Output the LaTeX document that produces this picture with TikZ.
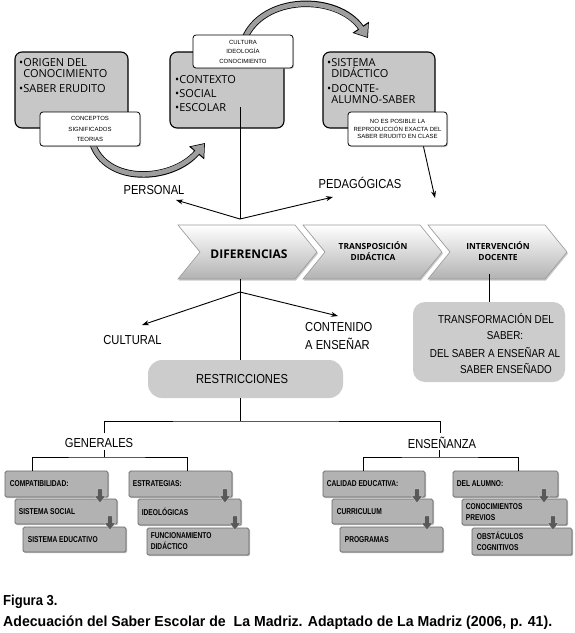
\documentclass[tikz,border=0pt]{standalone}
\usepackage{fontspec}
\usepackage{graphicx}
\setmainfont{Liberation Sans}
\newfontfamily\labf[FakeStretch=0.86]{Liberation Sans}
\newfontfamily\capf[FakeStretch=0.9]{Liberation Sans}
\newfontfamily\boxf{Open Sans}
\newfontfamily\smallf{Liberation Sans}
\newfontfamily\lowf[FakeStretch=0.78]{Liberation Sans}
\usetikzlibrary{arrows.meta,calc,shadows}
\newcommand\darrow[2]{\filldraw[darr] (#1-2.6,#2) -- (#1+2.6,#2) -- (#1+2.6,#2+7) -- (#1+5.5,#2+7) -- (#1,#2+14) -- (#1-5.5,#2+7) -- (#1-2.6,#2+7) -- cycle;}
\begin{document}
\begin{tikzpicture}[x=1pt,y=-1pt,
  graybox/.style={draw=black, line width=1.1pt, fill=black!22, rounded corners=7pt, inner sep=0pt},
  wbox/.style={draw=black, line width=0.8pt, fill=white, rounded corners=3pt, inner sep=0pt, align=center,
     drop shadow={shadow xshift=1pt, shadow yshift=-1pt, fill=black!40, opacity=0.5}},
  btxt/.style={anchor=base west, inner sep=0pt, font=\boxf\fontsize{11}{11.5}\selectfont},
  conn/.style={line width=0.9pt, black},
  arr/.style={conn, -{Stealth[length=7pt,width=5pt]}},
  lab/.style={inner sep=0pt, font=\labf\fontsize{13}{15}\selectfont},
  chev/.style={top color=white, bottom color=black!30, draw=black!40, line width=0.6pt,
     drop shadow={shadow xshift=1pt, shadow yshift=-1.5pt, fill=black!35, opacity=0.6}},
  chevtxt/.style={inner sep=0pt, align=center, font=\boxf\bfseries\fontsize{8.4}{11}\selectfont},
  pill/.style={fill=black!20, inner sep=0pt},
  lowbox/.style={draw=black!60, line width=0.7pt, fill=black!30, rounded corners=1.5pt, inner sep=0pt,
     drop shadow={shadow xshift=1.2pt, shadow yshift=-1.2pt, fill=black!35, opacity=0.7}},
  lowtxt/.style={inner sep=0pt, anchor=west, align=left, font=\lowf\bfseries\fontsize{8.5}{11}\selectfont},
  darr/.style={fill=black!65, draw=black!20, line width=0.4pt},
  carrO/.style={line width=6.5pt, black, -{Triangle[length=13pt,width=19pt]}},
  carrI/.style={line width=4.8pt, black!38, shorten >=1.3pt, -{Triangle[length=10.5pt,width=15.5pt]}},
]
\fill[white] (0,0) rectangle (574,633);
\useasboundingbox (0,0) rectangle (574,633);

% top gray boxes
\node[graybox, minimum width=113pt, minimum height=76pt] (origen) at (71.5,90) {};
\node[graybox, minimum width=114pt, minimum height=76pt] (contexto) at (227,90) {};
\node[graybox, minimum width=112pt, minimum height=76pt] (sistema) at (379,90) {};

\node[btxt] (origen-t) at (19,66) {\parbox[t]{110pt}{\raggedright •ORIGEN DEL\\\phantom{•}CONOCIMIENTO\\[3.5pt]•SABER ERUDITO}};
\node[btxt, font=\boxf\fontsize{11}{14}\selectfont] (contexto-t) at (175,83) {\parbox[t]{100pt}{\raggedright •CONTEXTO\\•SOCIAL\\[0.5pt]•ESCOLAR}};
\node[btxt] (sistema-t) at (327,66) {\parbox[t]{106pt}{\raggedright •SISTEMA\\\phantom{•}DIDÁCTICO\\[3pt]•DOCNTE-\\\phantom{•}ALUMNO-SABER}};

% curved arrows
\coordinate (ca1s) at (92,142);
\coordinate (ca1e) at (205,143);
\draw[carrO] (ca1s) .. controls (105,185) and (172,182) .. (ca1e);
\draw[carrI] (ca1s) .. controls (105,185) and (172,182) .. (ca1e);
\coordinate (ca2s) at (244,40);
\coordinate (ca2e) at (368,38);
\draw[carrO] (ca2s) .. controls (262,-6) and (338,-6) .. (ca2e);
\draw[carrI] (ca2s) .. controls (262,-6) and (338,-6) .. (ca2e);

% white boxes
\node[wbox, minimum width=100pt, minimum height=34pt, font=\smallf\fontsize{6}{10.5}\selectfont] (conceptos) at (90,129) {CONCEPTOS\\SIGNIFICADOS\\TEORIAS};
\node[wbox, minimum width=100pt, minimum height=33pt, font=\smallf\fontsize{6}{9.5}\selectfont] (cultura) at (243,51.5) {CULTURA\\IDEOLOGÍA\\CONOCIMIENTO};
\node[wbox, minimum width=99pt, minimum height=34pt, font=\smallf\fontsize{6}{7.5}\selectfont] (noes) at (397.5,129) {NO ES POSIBLE LA\\REPRODUCCIÓN EXACTA DEL\\SABER ERUDITO EN CLASE};

% chevrons
\path[chev] (178,225) -- ++(117,0) -- ++(22,27) -- ++(-22,27) -- ++(-117,0) -- ++(22,-27) -- cycle;
\path[chev] (303,225) -- ++(117,0) -- ++(22,27) -- ++(-22,27) -- ++(-117,0) -- ++(22,-27) -- cycle;
\path[chev] (428,225) -- ++(117,0) -- ++(22,27) -- ++(-22,27) -- ++(-117,0) -- ++(22,-27) -- cycle;
\node[chevtxt, font=\boxf\bfseries\fontsize{12}{14}\selectfont] (dif) at (249,254) {DIFERENCIAS};
\node[chevtxt] (trans) at (373,251) {TRANSPOSICIÓN\\DIDÁCTICA};
\node[chevtxt] (interv) at (498,251) {INTERVENCIÓN\\DOCENTE};

% labels
\node[lab] (personal) at (154,190) {PERSONAL};
\node[lab] (pedag) at (360,183) {PEDAGÓGICAS};
\node[lab] (cultural) at (132.5,340) {CULTURAL};
\node[lab, anchor=west, align=left, font=\labf\fontsize{13}{18}\selectfont] (contenido) at (305,336) {CONTENIDO\\A ENSEÑAR};

% connectors upper
\coordinate (ctx-l) at (240,107);
\coordinate (br1) at (240,219);
\coordinate (personal-tip) at (176,200);
\coordinate (pedag-tip) at (333,197);
\coordinate (interv-tip) at (435,198);
\draw[conn] (ctx-l) -- (br1);
\draw[arr] (br1) -- (personal-tip);
\draw[arr] (br1) -- (pedag-tip);
\draw[arr] ($(noes.south west)!0.76!(noes.south east)$) -- (interv-tip);

% restricciones and transformation
\node[pill, rounded corners=14pt, minimum width=195pt, minimum height=38pt] (restr) at (245.5,379) {};
\node[lab] (restr-t) at (242,379) {RESTRICCIONES};
\node[pill, rounded corners=12pt, minimum width=152pt, minimum height=80pt] (transf) at (489,342) {};
\node[lab, font=\labf\fontsize{11.5}{14}\selectfont] (tf1) at (496,319) {TRANSFORMACIÓN DEL};
\node[lab, font=\labf\fontsize{11.5}{14}\selectfont] (tf2) at (505,336) {SABER:};
\node[lab, font=\labf\fontsize{11.5}{14}\selectfont] (tf3) at (495,353) {DEL SABER A ENSEÑAR AL};
\node[lab, font=\labf\fontsize{11.5}{14}\selectfont] (tf4) at (506,369) {SABER ENSEÑADO};

\coordinate (dif-b) at (240,279);
\coordinate (br2) at (240,292);
\coordinate (cult-tip) at (142,325);
\coordinate (cont-tip) at (338,316);
\coordinate (interv-b) at (489,274);
\draw[conn] (dif-b) -- (dif-b |- restr.north);
\draw[arr] (br2) -- (cult-tip);
\draw[arr] (br2) -- (cont-tip);
\draw[conn] (interv-b) -- (transf.north);

% lower tree
\node[lab] (gen) at (99,443) {GENERALES};
\node[lab] (ens) at (442,443) {ENSEÑANZA};
\coordinate (hub) at (240,421);
\coordinate (gen-top) at (104,433);
\coordinate (ens-top) at (440,433);
\coordinate (gen-bot) at (104,450);
\coordinate (gen-hub) at (104,457);
\coordinate (ens-bot) at (439,450);
\coordinate (ens-hub) at (439,457);
\draw[conn] (dif-b |- restr.south) -- (hub);
\draw[conn] (gen-top) |- (hub) -| (ens-top);
\draw[conn] (gen-bot) -- (gen-hub);
\draw[conn] (ens-bot) -- (ens-hub);

\node[lowbox, minimum width=103pt, minimum height=26pt] (comp) at (56.5,484) {};
\node[lowbox, minimum width=102pt, minimum height=25pt] (soc) at (66,511.5) {};
\node[lowbox, minimum width=103pt, minimum height=25pt] (edu) at (74.5,539.5) {};
\node[lowbox, minimum width=103pt, minimum height=26pt] (estr) at (180.5,484) {};
\node[lowbox, minimum width=103pt, minimum height=26pt] (ideo) at (189.5,512) {};
\node[lowbox, minimum width=102pt, minimum height=27pt] (func) at (198,541.5) {};
\node[lowbox, minimum width=102pt, minimum height=26pt] (cal) at (374,484) {};
\node[lowbox, minimum width=101pt, minimum height=25pt] (cur) at (382.5,511.5) {};
\node[lowbox, minimum width=103pt, minimum height=25pt] (prog) at (391.5,539.5) {};
\node[lowbox, minimum width=105pt, minimum height=26pt] (alum) at (505.5,484) {};
\node[lowbox, minimum width=105pt, minimum height=26pt] (conoc) at (514.5,512) {};
\node[lowbox, minimum width=100pt, minimum height=27pt] (obst) at (522,541.5) {};

\draw[conn] (comp.north -| 32,0) |- (gen-hub) -| (estr.north -| 187,0);
\draw[conn] (cal.north -| 363,0) |- (ens-hub) -| (alum.north -| 518,0);

\node[lowtxt] (comp-t) at ([xshift=5pt]comp.west) {COMPATIBILIDAD:};
\node[lowtxt] (soc-t) at ([xshift=4pt]soc.west) {SISTEMA SOCIAL};
\node[lowtxt] (edu-t) at ([xshift=5pt]edu.west) {SISTEMA EDUCATIVO};
\node[lowtxt] (estr-t) at ([xshift=4pt]estr.west) {ESTRATEGIAS:};
\node[lowtxt] (ideo-t) at ([xshift=4pt]ideo.west) {IDEOLÓGICAS};
\node[lowtxt] (func-t) at ([xshift=4pt]func.west) {FUNCIONAMIENTO\\DIDÁCTICO};
\node[lowtxt] (cal-t) at ([xshift=4pt]cal.west) {CALIDAD EDUCATIVA:};
\node[lowtxt] (cur-t) at ([xshift=5pt]cur.west) {CURRICULUM};
\node[lowtxt] (prog-t) at ([xshift=5pt]prog.west) {PROGRAMAS};
\node[lowtxt] (alum-t) at ([xshift=4pt]alum.west) {DEL ALUMNO:};
\node[lowtxt] (conoc-t) at ([xshift=4pt]conoc.west) {CONOCIMIENTOS\\PREVIOS};
\node[lowtxt] (obst-t) at ([xshift=5pt]obst.west) {OBSTÁCULOS\\COGNITIVOS};

\darrow{100}{489}
\darrow{110}{516}
\darrow{225}{489}
\darrow{235}{516}
\darrow{417}{489}
\darrow{427}{516}
\darrow{544}{489}
\darrow{553}{516}

% caption
\node[anchor=west, inner sep=0pt, font=\capf\bfseries\fontsize{14.5}{16}\selectfont] (fig) at (3,602) {Figura 3.};
\node[anchor=west, inner sep=0pt, font=\capf\bfseries\fontsize{14.5}{16}\selectfont] (capt) at (3,623) {\resizebox{549pt}{\height}{Adecuación del Saber Escolar de\ \ La Madriz. Adaptado de La Madriz (2006, p. 41).}};
\end{tikzpicture}
\end{document}
